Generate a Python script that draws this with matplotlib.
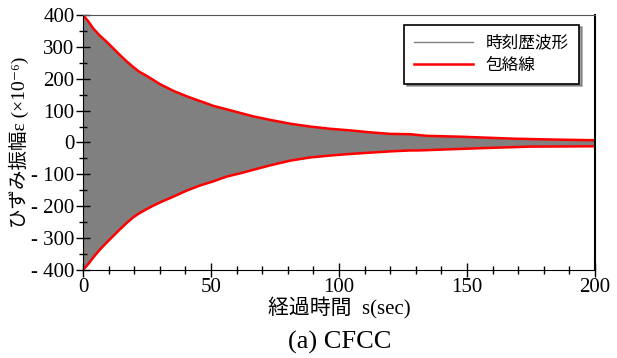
import matplotlib
matplotlib.use('Agg')
import matplotlib.pyplot as plt
import numpy as np
from matplotlib.ticker import MultipleLocator

plt.rcParams['font.family'] = ['Liberation Serif', 'Noto Sans CJK JP', 'DejaVu Sans']

# envelope
t_upper = [0, 2, 4, 6.5, 9.25, 12, 14.5, 17, 19.6, 22, 24.9, 27.5, 30.1, 35.3, 40.5, 45.7,
           50.9, 56.1, 61.3, 66.5, 73, 80.9, 88.7, 96.5, 104.3, 112, 119.9, 127.7, 134,
           148, 168, 185, 200]
upper = [400, 381, 358, 336, 316, 294, 274, 255, 237, 222, 209, 196, 183, 162, 145, 130,
         115, 104, 93, 82, 71, 59, 50, 43, 38, 32, 27, 26, 21, 18, 12, 9, 7]

t_lower = [0, 2, 4, 6.5, 9.25, 12, 14.5, 17, 19.6, 22, 24.9, 27.5, 30.1, 35.3, 40.5, 45.7,
           50.9, 56.1, 61.3, 67.8, 73, 80.9, 88.7, 96.5, 104.3, 112, 119.9, 127.7, 131,
           155, 174.6, 200]
lower = [-400, -382, -361, -337, -314, -292, -272, -253, -235, -222, -209, -198, -188,
         -170, -151, -135, -122, -107, -97, -83, -72, -57, -47, -41, -36, -32, -28, -25,
         -25, -18, -13, -12]

y_ticks = [400, 300, 200, 100, 0, -100, -200, -300, -400]
y_tick_labels = ['400', '300', '200', '100', '0', '- 100', '- 200', '- 300', '- 400']
x_ticks = [0, 50, 100, 150, 200]

fig = plt.figure(figsize=(6.17, 3.58), dpi=100)
ax = fig.add_axes([0.1345, 0.246, 0.83, 0.712])

# time history shown as the dense gray band between the envelopes
tt = np.union1d(t_upper, t_lower)
ax.fill_between(tt, np.interp(tt, t_lower, lower), np.interp(tt, t_upper, upper),
                color='#808080', lw=0)
ax.plot([], [], color='#808080', lw=1, label='時刻歴波形')
ax.plot(t_upper, upper, color='red', lw=1.8, label='包絡線')
ax.plot(t_lower, lower, color='red', lw=1.8)

ax.set_xlim(0, 200)
ax.set_ylim(-400, 400)
ax.set_yticks(y_ticks)
ax.set_yticklabels(y_tick_labels)
ax.set_xticks(x_ticks)
ax.xaxis.set_minor_locator(MultipleLocator(10))
ax.yaxis.set_minor_locator(MultipleLocator(50))
ax.tick_params(which='major', direction='inout', length=10, width=1, labelsize=15, pad=1)
ax.tick_params(which='minor', direction='inout', length=6, width=1)
ax.spines['top'].set_color('#555555')
ax.spines['right'].set_linewidth(1.5)

ax.set_xlabel('経過時間  s(sec)', fontsize=15, labelpad=0)
ax.set_ylabel('ひずみ振幅ε (×10⁻⁶)', fontsize=14, labelpad=2)
fig.text(0.55, 0.01, '(a) CFCC', ha='center', va='bottom', fontsize=19)

leg = ax.legend(loc='upper right', bbox_to_anchor=(0.985, 0.995), frameon=True,
                fancybox=False, shadow=True, fontsize=12, handlelength=3.5,
                borderpad=0.6, labelspacing=0.3)
leg.get_frame().set_edgecolor('black')
leg.get_frame().set_linewidth(1.2)
for txt in leg.get_texts():
    txt.set_family(['Noto Sans CJK JP'])

fig.savefig('out.png', dpi=100)
